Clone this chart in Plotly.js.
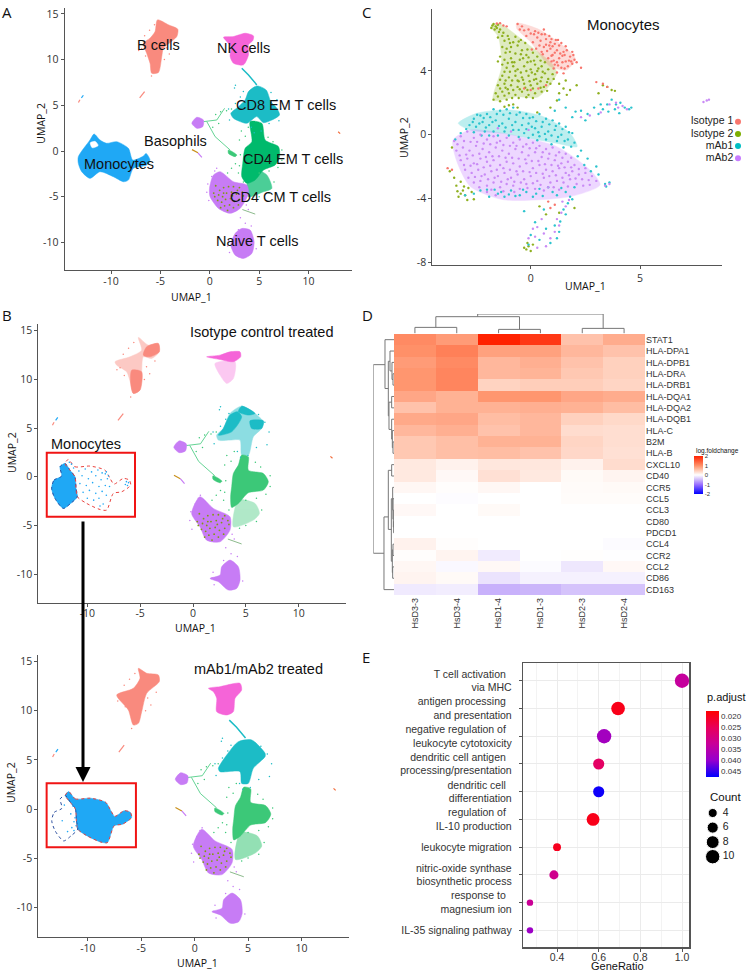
<!DOCTYPE html>
<html>
<head>
<meta charset="utf-8">
<script src="https://cdn.plot.ly/plotly-3.0.1.min.js"></script>
<style>body { margin: 0; background: white; }</style>
</head>
<body>
<div id="plot"></div>
<script>
var W = 747, H = 973;

// UMAP clusters are outlines (cell level points cannot be read one by one)
var bCellsA = [[-5.3,14.34],[-4.19,13.8],[-3.24,13.32],[-3.34,12.52],[-4.02,11.86],[-4.7,11.24],[-4.86,10.33],[-5.2,8.58],[-5.88,8.5],[-6.05,9.6],[-6.39,10.69],[-6.72,11.79],[-6.05,12.34],[-5.54,13.07]];
var nkA = [[1.39,12.45],[2.4,12.52],[3.58,12.88],[4.43,12.59],[4.36,12.08],[3.92,11.61],[3.92,10.51],[3.41,9.42],[2.4,9.6],[2.06,10.33],[2.13,11.42],[1.72,11.97]];
var cd8A = [[3.92,6.5],[4.76,7.12],[5.71,6.68],[6.18,5.4],[6.72,4.78],[7.06,3.94],[5.44,3.1],[4.76,3.76],[3.75,3.03],[2.4,3.58],[2.13,4.12],[2.91,4.85],[3.58,5.58]];
var cd4EmA = [[4.09,3.21],[5.27,3.03],[5.61,1.2],[6.96,0.47],[7.06,-0.62],[6.62,-1.53],[5.44,-2.08],[4.59,-3.18],[3.75,-3.54],[3.24,-2.81],[3.34,-1.35],[3.58,0.29],[4.26,1.02]];
var cd4LoopA = [[4.76,-2.08],[5.78,-2.63],[6.28,-4.09],[5.44,-4.45],[3.92,-5],[3.75,-3.7]];
var cd4CmA = [[-0.03,-4.09],[0.37,-2.63],[1.05,-2.26],[2.4,-3.36],[3.75,-3.72],[3.92,-4.64],[3.07,-6.28],[2.06,-6.82],[0.88,-6.28],[0.03,-5]];
var naiveA = [[2.57,-9.01],[3.24,-8.47],[4.09,-8.65],[4.49,-9.93],[4.26,-11.2],[3.41,-11.75],[2.57,-11.39],[2.13,-10.29]];
var monoA = [[-13.31,-0.62],[-12.13,1.2],[-11.72,1.86],[-11.11,1.2],[-10.44,0.84],[-9.43,1.02],[-8.24,0.29],[-7.8,-0.99],[-6.72,-0.55],[-6.45,-0.26],[-6.05,-0.99],[-6.39,-1.53],[-7.74,-1.9],[-8.24,-3.18],[-8.75,-3.36],[-9.76,-2.81],[-11.11,-2.26],[-12.13,-2.99],[-12.97,-2.26],[-13.31,-1.35]];
var monoHole = [[-12.1,0.9],[-11.6,1.05],[-11.3,0.6],[-11.9,0.35]];
var basoBlob = [[-1.82,3.03],[-1.32,3.69],[-0.64,3.39],[-0.71,2.66],[-1.32,2.48]];
var greenBlob = [[1.89,0.11],[2.74,-0.44],[2.57,-0.62],[1.89,-0.26]];

// streaks
var nkStreak = [[3.24,9.05],[3.92,8.32],[4.76,7.23]];
var basoStreak1 = [[-0.3,3.21],[0.54,1.57],[2.06,0.11]];
var basoStreak2 = [[-0.64,3.21],[0.71,3.39],[1.5,4.67]];
var bSmall = [[-7.1,5.8],[-6.6,6.5]];
var farSalmon1 = [[-13.3,5.3],[-13.15,5.6]];
var farBlue = [[-13,5.8],[-12.8,6.1]];
var farSalmon2 = [[13,2.1],[13.2,1.9]];
var basoLine = [[-1.8,0.15],[-1.2,-0.2]];
var basoLine2 = [[-1.2,-0.2],[-0.8,-0.7]];
var cmTail = [[3.3,-6.4],[4.6,-6.9]];

// panel B outlines
var bCellsB1 = [[-5.17,14.32],[-4.23,13.53],[-3.28,13.7],[-3.19,12.84],[-3.91,12.16],[-4.7,12.33],[-4.86,10.79],[-5.02,8.9],[-5.65,8.56],[-5.9,9.59],[-6.28,10.79],[-7.22,11.47],[-7.38,11.82],[-5.96,12.33],[-4.86,13.01]];
var bTopB1 = [[-4.39,13.36],[-3.28,13.7],[-3.19,12.84],[-4.07,12.33],[-4.7,12.5]];
var bLowB1 = [[-5.8,10.96],[-4.86,10.79],[-5.02,8.9],[-5.65,8.56],[-5.9,9.59]];
var nkDenseB1 = [[1.29,12.33],[2.56,12.5],[3.5,12.84],[4.45,12.84],[4.51,12.33],[3.82,11.82],[2.56,12.05]];
var nkSparseB1 = [[2.08,11.64],[3.97,11.82],[3.82,10.1],[3.19,9.59],[2.56,10.45]];
var cd8B1 = [[2.24,4.28],[2.87,4.97],[3.5,6.51],[4.61,7.26],[5.87,6.51],[6.66,5.65],[6.5,4.97],[5.71,4.11],[5.24,2.23],[4.61,2.23],[4.45,3.77],[3.5,3.77],[2.4,3.77]];
var cd8DenseB1a = [[2.4,4.28],[3.66,4.62],[4.61,6.16],[4.2,6.68],[3.5,6.34],[2.87,4.97]];
var cd8DenseB1b = [[4.61,7.26],[5.87,6.51],[5.24,6.34],[4.29,6.68]];
var cd8DenseB1c = [[5.39,5.75],[6.66,5.75],[6.5,4.97],[5.55,4.97]];
var cd4EmB = [[4.61,2.23],[5.24,2.05],[5.24,0.68],[6.66,0.34],[7.13,-0.51],[6.66,-1.37],[5.24,-1.64],[4.29,-2.74],[3.66,-3.15],[3.56,-2.05],[3.66,-1.03],[3.82,0.34],[4.29,1.2]];
var cd4LoopB = [[4.29,-2.4],[5.87,-2.74],[6.28,-3.77],[5.71,-4.45],[3.82,-5.14]];
var cd4CmB = [[-0.13,-3.77],[0.66,-2.05],[1.92,-3.25],[3.5,-4.11],[3.5,-5.48],[2.56,-6.68],[1.29,-6.51],[0.66,-5.14]];
var naiveB = [[2.71,-9.25],[3.5,-8.56],[4.29,-9.25],[4.45,-10.62],[4.13,-11.47],[3.34,-11.64],[2.4,-10.79],[1.61,-10.45],[2.56,-10.1]];
var bCellsB2 = [[-5.27,14.32],[-4.49,13.82],[-3.4,13.65],[-3.31,12.97],[-4.49,11.78],[-4.96,9.91],[-5.27,8.72],[-5.74,8.55],[-6.21,10.08],[-7.3,11.61],[-5.74,12.29],[-5.12,13.31]];
var nkB2 = [[1.28,12.29],[2.37,12.46],[4.24,12.8],[4.4,12.12],[3.78,11.27],[3.62,9.91],[3,9.57],[2.06,9.91],[2.06,11.27],[1.75,11.95]];
var cd8B2 = [[3,5.5],[4.09,6.86],[5.34,7.03],[6.59,5.67],[6.59,5.33],[5.49,4.14],[5.02,2.61],[4.4,2.61],[4.24,3.8],[2.37,3.8],[2.22,4.14]];
var monoLeft = [[-13.38,-1.2],[-13.15,-0.34],[-12.43,0.07],[-12.59,1.03],[-12.11,1.37],[-11.64,0.68],[-11.17,0],[-11.07,-1.2],[-10.95,-2.05],[-11.58,-2.74],[-12.27,-3.25],[-13.06,-2.23]];
var monoRight = [[-11.8,1.78],[-11.17,1.03],[-9.75,1.1],[-8.33,0.68],[-7.85,-0.17],[-7.48,-0.75],[-6.59,-0.17],[-6.03,-0.34],[-5.9,-0.86],[-6.75,-1.54],[-7.54,-1.71],[-8.17,-3.42],[-8.8,-3.36],[-10.06,-2.74],[-10.95,-2.05],[-11.07,-1.2],[-11.17,0],[-11.64,0.68],[-12.11,1.37]];

var monoRightPts = [[-10.8,0.6],[-10.2,0.8],[-9.6,0.5],[-9,0.7],[-8.6,0.4],[-8.3,0.3],[-10.5,0.1],[-9.9,-0.2],[-9.2,0.1],[-8.7,-0.3],[-8.1,-0.2],[-10.7,-0.7],[-10.1,-0.9],[-9.5,-0.6],[-8.9,-1],[-8.3,-0.9],[-7.9,-1],[-10.4,-1.6],[-9.8,-1.4],[-9.2,-1.7],[-8.6,-1.5],[-10,-2.2],[-9.4,-2.4],[-8.9,-2.2],[-8.5,-2.8],[-8.8,-3],[-8.2,-1.9],[-6.3,-0.5],[-6.1,-0.6],[-6.4,-0.8],[-6.2,-0.9],[-11.5,1.3],[-11.7,1.5],[-11.3,0.9],[-8.2,0.5],[-8,0.1]];
var monoLeftPts = [[-12.2,0.4],[-11.4,0.3],[-11.6,-0.5],[-11.3,-1.3],[-11.5,-1.9],[-12.4,-1.2],[-11.2,-0.9],[-11.1,-1.7],[-11.9,-2.3],[-11.3,-2.2]];
var olivePts = [[0.6,-3.8],[1,-4.3],[1.4,-4],[1.9,-3.9],[2.4,-3.9],[3,-4],[0.4,-4.6],[0.9,-4.8],[1.3,-5],[1.7,-4.6],[2.2,-4.5],[2.7,-4.7],[3.3,-4.5],[0.8,-5.4],[1.2,-5.6],[1.6,-5.3],[2.1,-5.2],[2.5,-5.5],[3,-5.3],[1.5,-6],[2,-5.9],[2.4,-6.2],[2.9,-5.9],[1.1,-6.2],[1.8,-6.5],[3.4,-4.9],[0.5,-5],[2.3,-4.9],[1.4,-4.6],[2.8,-4.3]];
var greenSpecks = [[3,1.2],[3.2,2.2],[3.6,1.6],[3.9,2.6],[3.1,-0.4],[3,-1.6],[2.9,-2.4],[5.9,1.5],[6.4,1],[7.3,0.1],[7.3,-1],[6.9,-1.8],[6,-2.2],[5,-2.4],[2.6,-1.4],[2.2,-1.9],[1.8,-2.4],[3.4,-3.4],[6,-4.6],[5,-5],[4.4,-5.3],[6.5,-3.4],[2.2,4.6],[1.7,4.4],[0.9,3],[0.3,2.6],[0.6,4],[1.1,4.3]];
var tealSpecks = [[2,3.4],[1.9,4.6],[2.6,5.2],[3.1,5.9],[2.5,6.9],[2.6,7.2],[3.4,6.5],[4.2,2.6],[4.5,2],[5.2,2.2],[6,3],[7,3.3],[7.2,4.6],[6.8,5.6],[6.2,6.4]];
var purpleSpecks = [[-0.3,-4.5],[-0.2,-3.6],[0.2,-2.8],[0.5,-2.2],[0.7,-1.9],[3.9,-6.4],[3.1,-7.3],[3.6,-7.9],[4.2,-8.2],[2.9,-8.6],[1.9,-9.8],[1.8,-10.4],[4.7,-10.7],[2,-11.1],[1.1,-5.9],[-0.1,-5.4],[3.7,-5.9]];
var salmonSpecks = [[-6.6,12.6],[-6.1,13.2],[-5.6,13.8],[-6.9,11.2],[-6.5,10.4],[-4.4,11.3],[-4.1,10.6],[-4.6,10],[-3.6,11.9],[-7.2,11],[-5.9,8.2]];

// panel C points and tints
var isotype1Pts = [[-0.6,6.95],[-0.4,6.8],[-0.1,6.6],[0.2,6.5],[0.5,6.3],[0.3,6.1],[0.7,6],[0.9,5.8],[1.1,5.7],[0.6,5.5],[0.9,5.4],[1.2,5.3],[1.5,5.2],[1.8,4.9],[2,4.7],[1.6,4.6],[1.3,4.8],[1,5],[0.8,4.8],[1.1,4.4],[1.4,4.2],[1.7,4.3],[1.2,3.9],[0.4,5.6],[0.1,5.8],[-0.2,6.2],[2.3,4.2],[3,3.3],[3.3,3.2],[3.5,3],[-1.4,7],[-1.1,6.8],[-0.3,2.9],[0,2.8],[-3.8,-2.1],[-3.6,-2.2],[0.8,-4.2],[0.9,-4.6],[1.1,-4.4],[0.6,6.6],[0.85,6.2],[1.25,5.95],[1.6,5.55],[1.9,5.2],[0.55,5.05],[1.45,4.95],[1.05,4.65],
  [0.15,6.3],[0.45,5.9],[0.7,5.65],[1,5.55],[1.3,5.6],[1.55,5],[1.85,4.6],[1.95,5],[0.95,4.95],[1.2,4.55],[1.45,4.55],[1.55,4.15],[1.05,4.15],[0.75,5.25],[0.5,5.2],[-0.3,6.55],[-0.5,6.6],[0,6.35],[0.35,6.4],[0.65,6.3],[0.95,6],[1.15,5.95],[1.4,5.75],[1.65,5.3],[1.75,4.65],[1.35,5.1],[1.1,5.15],[0.85,5.6],[0.25,5.4],[0.05,5.35],[1.25,4.35],[0.95,4.6],[1.9,4.45],[2.1,4.55],[1.5,3.85],[0.7,3.1],[0.35,2.9],[-1.55,6.98],[-1.25,6.85]];
var isotype2Pts = [[-1.7,6.95],[-1.6,6.8],[-1.8,6.7],[-1.5,6.9],[-1.65,6.6],[-1.4,6.6],[-1.3,6.2],[-1.5,6.1],[-1.2,5.9],[-1,6],[-0.8,5.8],[-1.3,5.5],[-1.1,5.4],[-0.9,5.5],[-0.6,5.6],[-0.4,5.3],[-0.7,5.1],[-1.4,4.9],[-1.5,4.6],[-1.2,4.7],[-0.9,4.8],[-0.5,4.7],[-0.2,5],[0,4.6],[0.3,4.9],[-1.1,4.2],[-0.8,4.3],[-0.6,4.1],[-0.3,4.3],[0,4.1],[0.2,4.4],[0.5,4.3],[0.8,4.1],[1,3.8],[-1.3,3.7],[-1,3.6],[-0.7,3.7],[-0.4,3.6],[-0.1,3.7],[0.2,3.8],[0.5,3.6],[0.8,3.5],[-1.5,3.1],[-1.2,3.2],[-0.9,3.1],[-0.6,3],[-0.3,3.2],[0,3.1],[0.3,3.2],[0.6,3],[0.9,3.2],[-1.6,2.6],[-1.3,2.7],[-1,2.6],[-0.7,2.5],[-0.4,2.7],[-0.1,2.5],[0.2,2.6],[0.5,2.7],[-1.7,2.2],[-1.4,2.1],[-1.1,2.2],[-0.8,1.9],[1.3,3.2],[1.6,3.4],[1.8,2.8],[1.3,2.6],[0.9,1.7],[3.5,3],[3.7,2.8],[3.85,2.75],[3.3,3.1],[3.1,2.6],[-3.2,-3.7],[-3.1,-3.5],[-3.3,-3.9],[-3,-3.8],[-2.9,-4.1],[-3.4,-3.2],[-2.7,-3.6],[-3.5,-2.7],[-3.7,-2.3],[-3.6,-0.8],[-0.2,-7.2],[-0.1,-7],[0,-7.3],[-0.3,-7.1],[-0.15,-6.8],[0.1,-6.9],[1.3,-4.9],[0.4,-4.5],[0.7,-5],[2,-4.6],[-0.45,5.95],[-0.85,4.55],[-0.15,4.55],[0.35,4.15],[-0.55,3.35],[0.15,3.45],[0.65,3.85],[-1.15,2.95],[-0.25,2.95],
  [-1.75,6.85],[-1.55,6.7],[-1.45,6.45],[-1.25,6.4],[-1.05,6.2],[-0.7,6.15],[-0.95,5.75],[-0.55,5.85],[-0.25,5.75],[-1.15,5.15],[-0.95,5.2],[-0.45,5.05],[-0.15,5.35],[0.1,5.15],[0.45,4.65],[-1.3,4.4],[-1.05,4.5],[-0.75,4.55],[-0.35,4.8],[-0.1,4.85],[0.15,4.65],[0.65,4.55],[-1.2,3.95],[-0.95,3.95],[-0.7,4],[-0.45,3.9],[-0.2,4],[0.05,3.9],[0.3,4],[0.55,3.95],[-1.4,3.45],[-1.15,3.4],[-0.85,3.4],[-0.6,3.4],[-0.35,3.45],[-0.05,3.35],[0.25,3.5],[0.45,3.35],[0.75,3.3],[-1.4,2.9],[-1.05,2.85],[-0.8,2.8],[-0.5,2.85],[-0.15,2.8],[0.1,2.9],[0.45,2.95],[0.75,2.75],[-1.5,2.4],[-1.2,2.45],[-0.85,2.3],[-0.55,2.3],[-0.2,2.35],[0.1,2.3],[-1,1.85],[-1.2,1.75],[-0.6,1.7],[1.05,3.5],[1.5,2.9],[1.65,2.5],[2.1,3.1],[1.2,2.15],[0.3,1.4],[-3.05,-3.25],[-3.2,-2.95],[-2.85,-3.35],[-3.35,-3.55],[-2.6,-4.05]];
var mab1Pts = [[-2.6,1],[-2.3,1.2],[-2,1.3],[-1.7,1.6],[-1.4,1.5],[-1.1,1.6],[-0.8,1.7],[-0.5,1.4],[-0.2,1.3],[0.1,1.1],[0.4,1.3],[0.7,1],[1,0.9],[1.3,0.7],[1.6,0.5],[1.9,0.1],[-2.8,0.6],[-2.5,0.5],[-2.2,0.8],[-1.9,0.6],[-1.6,0.9],[-1.3,0.7],[-1,1],[-0.7,0.8],[-0.4,0.6],[-0.1,0.7],[0.2,0.4],[0.5,0.5],[0.8,0.2],[1.1,0.3],[1.4,0],[1.7,-0.3],[2,-0.5],[-2.1,0.2],[-1.7,0.2],[-1.2,0.2],[-0.8,0.3],[-0.3,0.1],[0.1,0],[0.4,-0.1],[0.7,-0.3],[1.2,-0.4],[2.3,-1],[2.6,-1.5],[3,-2],[3.1,-2.5],[3.4,-3.1],[3.6,-3],[3.45,-3.25],[2.3,1.5],[2.6,1.3],[2.9,1.7],[3.1,1.3],[3.3,1.6],[3.5,1.9],[3.7,2.2],[3.9,1.9],[4.1,2],[4.3,1.7],[4.5,1.6],[4.6,1.7],[1.3,2.2],[1.6,1.7],[1.9,1.1],[1.1,1.5],[-3,-3.8],[-2.3,-3.5],[-1.9,-3.9],[-1.5,-3.7],[-1.2,-3.9],[-0.9,-3.5],[-0.5,-3.8],[-0.2,-3.6],[0.1,-3.9],[0.4,-3.4],[0.8,-3.3],[1.2,-3.8],[1.6,-3.6],[2,-3.3],[1.7,-4.3],[1.5,-4.7],[-0.3,-4.8],[0.6,-4.7],[0.2,-5.5],[0.7,-5.9],[1.1,-5.7],[1.3,-6.1],[0,-6.3],[0.4,-6.6],[0.9,-6.8],[1.2,-6.5],[-0.1,-6.9],
  [-2.45,1.25],[-2.15,1.05],[-1.85,1.1],[-1.55,1.3],[-1.25,1.25],[-0.95,1.35],[-0.65,1.25],[-0.35,1.05],[-0.05,1.05],[0.25,0.85],[0.55,0.8],[0.85,0.65],[1.15,0.55],[1.45,0.35],[1.75,0.15],[-2.65,0.8],[-2.35,0.7],[-2.05,0.45],[-1.75,0.8],[-1.45,0.55],[-1.15,0.45],[-0.85,0.6],[-0.55,0.3],[-0.2,0.35],[0.05,0.5],[0.35,0.15],[0.65,0.05],[0.95,-0.05],[1.25,-0.15],[1.55,-0.4],[1.85,-0.75],[-2.95,0.35],[-2.6,0.15],[-2.25,-0.05],[-1.9,-0.05],[-1.5,-0.05],[-1,-0.05],[-0.55,-0.15],[-0.1,-0.2],[0.3,-0.35],[0.95,-0.6],[1.5,-0.8],[2.15,-1.35],[2.45,-1.9],[2.75,-2.3],[-2.6,-3.7],[-2,-3.45],[-1.65,-3.45],[-1.35,-3.6],[-1,-3.75],[-0.7,-3.85],[-0.35,-3.45],[0.25,-3.7],[0.55,-3.85],[1,-3.6],[1.4,-3.35],[1.8,-3.9],[1.9,-4.05],[1.6,-5],[1.35,-5.45],[3.2,1.9],[3.55,1.45],[3.85,1.6],[4.05,1.35],[2.05,1.45],[2.5,0.9],[-3.2,0.1],[-3.45,-0.3]];
var mab2Pts = [[-3.5,-0.4],[-3.2,-0.1],[-2.9,0.2],[-2.6,-0.2],[-2.3,0],[-2,-0.3],[-1.7,-0.1],[-1.4,-0.4],[-1.1,-0.2],[-0.8,-0.5],[-0.5,-0.3],[-0.2,-0.6],[0.1,-0.5],[0.4,-0.7],[0.7,-0.9],[1,-0.8],[1.3,-1.1],[1.6,-1.2],[-3.4,-1],[-3.1,-0.8],[-2.8,-1],[-2.5,-0.7],[-2.2,-0.9],[-1.9,-1.1],[-1.6,-0.8],[-1.3,-1],[-1,-1.2],[-0.7,-0.9],[-0.4,-1.1],[-0.1,-1.3],[0.2,-1.1],[0.5,-1.4],[0.8,-1.5],[1.1,-1.6],[1.4,-1.8],[1.7,-1.7],[2,-1.9],[-3.2,-1.6],[-2.9,-1.5],[-2.6,-1.8],[-2.3,-1.5],[-2,-1.7],[-1.7,-1.6],[-1.4,-1.9],[-1.1,-1.7],[-0.8,-1.8],[-0.5,-2],[-0.2,-1.8],[0.1,-2.1],[0.4,-1.9],[0.7,-2.2],[1,-2.3],[1.3,-2.1],[1.6,-2.4],[1.9,-2.3],[2.2,-2.5],[2.5,-2.4],[2.8,-2.6],[3,-2.9],[-3,-2.2],[-2.7,-2.4],[-2.4,-2.2],[-2.1,-2.5],[-1.8,-2.3],[-1.5,-2.6],[-1.2,-2.4],[-0.9,-2.7],[-0.6,-2.5],[-0.3,-2.8],[0,-2.6],[0.3,-2.9],[0.6,-2.7],[0.9,-3],[1.2,-2.9],[1.5,-3],[1.8,-2.8],[2.1,-3.1],[2.4,-3.2],[-2.6,-3],[-2.3,-2.9],[-2,-3.2],[-1.7,-3],[-1.4,-3.3],[-1.1,-3.1],[-0.8,-3.2],[-0.5,-3.4],[-0.2,-3.1],[0.2,-3.4],[0.6,-3.5],[-2,-3.6],[-1.6,-3.8],[3.4,-3.2],[3.6,-3.1],[1.6,-4.5],[1.4,-4.9],[1.2,-5.3],[0.3,-5.8],[0.6,-6.2],[-0.1,-6.5],[0.2,-6.4],[1.1,-6.1],[0.9,-6.5],[0.3,-7.1],[0.7,-7],[3.9,2],[4.2,1.8],[4.4,1.6],[4,1.7],[3.6,1.9],[3.2,1.4],[2.7,1.2],[2.3,1.1],[7.9,2.05],[8.05,2.15],[8.15,2.2],[-1.5,0.4],[-0.9,0.2],[-0.1,0.3],
  [-3.35,-0.6],[-3.05,-0.4],[-2.75,-0.45],[-2.45,-0.45],[-2.15,-0.55],[-1.85,-0.6],[-1.55,-0.5],[-1.25,-0.65],[-0.95,-0.7],[-0.65,-0.7],[-0.35,-0.75],[-0.05,-0.85],[0.25,-0.85],[0.55,-1.1],[0.85,-1.2],[1.15,-1.3],[1.45,-1.45],[1.85,-1.45],[-3.25,-1.3],[-2.95,-1.25],[-2.65,-1.3],[-2.35,-1.2],[-2.05,-1.4],[-1.75,-1.35],[-1.45,-1.35],[-1.15,-1.45],[-0.85,-1.45],[-0.55,-1.5],[-0.25,-1.55],[0.05,-1.65],[0.35,-1.65],[0.65,-1.85],[0.95,-1.9],[1.25,-1.95],[1.55,-2.05],[1.85,-2.05],[2.2,-2.15],[2.5,-2.1],[-3.05,-1.9],[-2.75,-1.95],[-2.45,-1.85],[-2.15,-2.05],[-1.85,-1.95],[-1.55,-2.2],[-1.25,-2.1],[-0.95,-2.2],[-0.65,-2.3],[-0.35,-2.3],[-0.05,-2.35],[0.25,-2.4],[0.55,-2.45],[0.85,-2.6],[1.15,-2.55],[1.45,-2.7],[1.75,-2.55],[2.05,-2.75],[2.35,-2.8],[2.65,-2.85],[-2.85,-2.7],[-2.55,-2.65],[-2.25,-2.6],[-1.95,-2.8],[-1.65,-2.7],[-1.35,-2.95],[-1.05,-2.8],[-0.75,-2.95],[-0.45,-3],[-0.15,-3.35],[0.1,-3.05],[0.45,-3.15],[0.8,-3.3],[1.05,-3.3],[1.3,-3.45],[1.7,-3.25],[2.7,-3.15],[-2.35,-3.3],[-1.8,-3.45],[-1.25,-3.55],[-0.75,-3.6],[1.45,-4.2],[1.75,-4.1],[1.3,-5.7],[0.5,-5.3],[0.1,-5.9]];
var tintIsotype1 = [[-0.64,6.99],[0.43,6.57],[2.03,4.8],[1.65,4.07],[0.88,4.29],[-0.03,5.86],[-0.64,6.67]];
var tintIsotype2 = [[-1.83,6.78],[-1.48,6.99],[-0.18,5.73],[0.96,4.48],[1.19,3.85],[0.35,2.38],[-0.64,2.38],[-1.71,2.17],[-1.33,4.27],[-1.48,6.15]];
var tintMab1 = [[-3.31,0.71],[-2.47,1.34],[-0.94,1.55],[0.58,1.13],[1.81,0.08],[2.12,-0.75],[1.19,-0.54],[-1.25,0.08],[-2.77,0.29]];
var tintMab2 = [[-3.55,-0.33],[-2.77,0.29],[-1.25,0.08],[1.19,-0.75],[2.71,-2.22],[3.17,-3.15],[1.81,-3.88],[-1.25,-4.08],[-2.77,-3.24],[-3.4,-1.59]];

// heatmap
var sampleNames = ["HsD3-3", "HsD3-4", "HsD1-4", "HsD1-3", "HsD2-3", "HsD2-4"];
var geneNames = ["STAT1", "HLA-DPA1", "HLA-DPB1", "HLA-DRA", "HLA-DRB1", "HLA-DQA1", "HLA-DQA2", "HLA-DQB1", "HLA-C", "B2M", "HLA-B", "CXCL10", "CD40", "CCR5", "CCL5", "CCL3", "CD80", "PDCD1", "CCL4", "CCR2", "CCL2", "CD86", "CD163"];
var foldChange = [
  [1.05, 0.9, 2.0, 1.8, 0.55, 0.75],
  [1.0, 1.15, 0.85, 0.85, 0.65, 0.55],
  [0.9, 1.05, 0.65, 0.72, 0.55, 0.42],
  [0.95, 1.1, 0.65, 0.68, 0.5, 0.42],
  [0.95, 1.1, 0.4, 0.45, 0.45, 0.38],
  [0.8, 0.7, 0.95, 0.95, 0.8, 0.75],
  [0.55, 0.7, 0.7, 0.72, 0.7, 0.6],
  [0.78, 0.8, 0.6, 0.65, 0.42, 0.35],
  [0.65, 0.72, 0.55, 0.65, 0.32, 0.3],
  [0.5, 0.58, 0.7, 0.7, 0.38, 0.3],
  [0.5, 0.58, 0.6, 0.55, 0.36, 0.28],
  [0.2, 0.12, 0.22, 0.22, 0.12, 0.32],
  [0.2, 0.06, 0.28, 0.2, 0.05, 0.1],
  [0.07, 0.02, 0.07, 0, 0.04, 0.05],
  [0, -0.02, 0, 0, 0.03, 0.03],
  [0.06, 0, 0.05, 0, 0, 0],
  [0, 0, 0, 0, 0, 0],
  [0, 0, 0, 0, 0, 0],
  [0.12, 0.02, 0, 0, 0, -0.03],
  [0.02, 0.1, -0.14, 0, 0.01, -0.01],
  [0.07, -0.05, 0.06, -0.03, -0.17, 0.06],
  [0.1, 0.05, -0.2, -0.1, -0.1, -0.1],
  [-0.15, -0.13, -0.55, -0.52, -0.42, -0.42]
];

// dendrogram merges: position a, height a, position b, height b, height of the join
var columnMerges = [[0,0,1,0,18],[2,0,3,0,12],[4,0,5,0,15],[0.5,18,2.5,12,50],[1.5,50,4.5,15,58]];
var rowMerges = [
  [3,0,4,0,3],[2,0,3.5,3,6],[1,0,2.75,6,12],[5,0,6,0,7],[9,0,10,0,3],[8,0,9.5,3,5],[7,0,8.75,5,7],
  [5.5,7,7.9,7,15],[1.9,12,6.7,15,17],[0,0,4.3,17,27],
  [11,0,12,0,7],[16,0,17,0,1],[15,0,16.5,1,2],[14,0,15.8,2,3],[13,0,15,3,4],[18,0,19,0,3],[20,0,21,0,4],[18.5,3,20.5,4,5],[14,4,19.5,5,8],
  [11.5,7,16.7,8,17],[15.6,17,22,0,30],[2.2,27,18.8,30,62]
];

// dot plot
var goTerms = ["T cell activation&nbsp;&nbsp;<br>via MHC", "antigen processing&nbsp;&nbsp;<br>and presentation", "negative regulation of&nbsp;&nbsp;<br>leukocyte cytotoxicity", "dendritic cell antigen&nbsp;&nbsp;<br>processing/presentation", "dendritic cell&nbsp;&nbsp;<br>differentiation", "regulation of&nbsp;&nbsp;<br>IL-10 production", "leukocyte migration", "nitric-oxide synthase<br>biosynthetic process", "response to&nbsp;&nbsp;<br>magnesium ion", "IL-35 signaling pathway"];
var geneRatio = [1.0, 0.693, 0.626, 0.6, 0.6, 0.573, 0.4, 0.385, 0.27, 0.27];
var pAdjust = [0.033, 0.0195, 0.038, 0.026, 0.047, 0.0195, 0.02, 0.031, 0.032, 0.039];
var geneCount = [10, 9, 10, 6, 6, 8, 3, 4, 2, 2];
var pTicks = [0.02, 0.025, 0.03, 0.035, 0.04, 0.045];
var pTickText = ["0.020", "0.025", "0.030", "0.035", "0.040", "0.045"];
var countLegend = [4, 6, 8, 10];

var groupNames = ["Isotype 1", "Isotype 2", "mAb1", "mAb2"];
var groupColors = ["#F8766D", "#7CAE00", "#00BFC4", "#C77CFF"];

var fontSans = "Liberation Sans, Arial, sans-serif";
var fontAxis = "Open Sans, sans-serif";
var salmon = "#F98A7E", pink = "#F564D8", teal = "#1CBCC6", green = "#00BA6C", greenB = "#3CC878",
    purple = "#C77CF5", blue = "#1FA8F5", olive = "#7F9A10";

function domX(a, b) { return [a / W, b / W]; }
function domY(top, bottom) { return [1 - bottom / H, 1 - top / H]; }
function xs(p) { return p.map(function (d) { return d[0]; }); }
function ys(p) { return p.map(function (d) { return d[1]; }); }

var data = [];

function blob(poly, color, ax, alpha) {
  var closed = poly.concat([poly[0]]);
  data.push({
    x: xs(closed), y: ys(closed), xaxis: "x" + ax, yaxis: "y" + ax,
    mode: "lines", fill: "toself", fillcolor: color, opacity: alpha || 1,
    line: { color: color, width: 0.5, shape: "spline", smoothing: 0.7 }, hoverinfo: "skip", showlegend: false
  });
}
function streak(poly, color, ax, width) {
  data.push({
    x: xs(poly), y: ys(poly), xaxis: "x" + ax, yaxis: "y" + ax, mode: "lines",
    line: { color: color, width: width || 1.2 }, hoverinfo: "skip", showlegend: false
  });
}
function dots(pts, color, ax, size) {
  data.push({
    x: xs(pts), y: ys(pts), xaxis: "x" + ax, yaxis: "y" + ax, mode: "markers",
    marker: { color: color, size: size || 2 }, hoverinfo: "skip", showlegend: false
  });
}
function outline(poly, color, ax) {
  var closed = poly.concat([poly[0]]);
  data.push({
    x: xs(closed), y: ys(closed), xaxis: "x" + ax, yaxis: "y" + ax, mode: "lines",
    line: { color: color, width: 1, dash: "dot", shape: "spline", smoothing: 0.7 }, hoverinfo: "skip", showlegend: false
  });
}
function sharedBits(ax) {
  streak(basoStreak1, greenB, ax, 0.8);
  streak(basoStreak2, greenB, ax, 0.8);
  blob(basoBlob, purple, ax);
  blob(greenBlob, greenB, ax);
  streak(bSmall, salmon, ax);
  streak(farSalmon1, salmon, ax);
  streak(farBlue, blue, ax);
  streak(farSalmon2, "#F26B3A", ax);
  streak(basoLine, "#C9901A", ax);
  streak(basoLine2, purple, ax);
  streak(cmTail, "#6FA86F", ax, 0.8);
  dots(olivePts, olive, ax, 1.8);
  dots(greenSpecks, greenB, ax, 1.5);
  dots(tealSpecks, teal, ax, 1.5);
  dots(purpleSpecks, purple, ax, 1.5);
  dots(salmonSpecks, salmon, ax, 1.5);
}

// Panel A
blob(bCellsA, salmon, "");
blob(nkA, pink, "");
streak(nkStreak, teal, "", 1.5);
blob(cd8A, teal, "");
blob(cd4LoopA, green, "", 0.7);
blob(cd4EmA, green, "");
blob(cd4CmA, purple, "");
blob(naiveA, purple, "");
blob(monoA, blue, "");
blob(monoHole, "#ffffff", "");
sharedBits("");

// Panel B, isotype control
blob(bCellsB1, salmon, "2", 0.45);
blob(bTopB1, salmon, "2");
blob(bLowB1, salmon, "2");
blob(nkSparseB1, pink, "2", 0.35);
blob(nkDenseB1, pink, "2");
blob(cd8B1, teal, "2", 0.5);
blob(cd8DenseB1a, teal, "2");
blob(cd8DenseB1b, teal, "2");
blob(cd8DenseB1c, teal, "2");
blob(cd4LoopB, greenB, "2", 0.4);
blob(cd4EmB, greenB, "2");
blob(cd4CmB, purple, "2");
blob(naiveB, purple, "2");
blob(monoLeft, blue, "2");
outline(monoLeft, "#2D4FA0", "2");
outline(monoRight, "#E8433F", "2");
dots(monoRightPts, blue, "2", 1.6);
sharedBits("2");

// Panel B, treated
blob(bCellsB2, salmon, "3");
blob(nkB2, pink, "3");
streak(nkStreak, teal, "3", 1.5);
blob(cd8B2, teal, "3");
blob(cd4LoopB, greenB, "3", 0.55);
blob(cd4EmB, greenB, "3");
blob(cd4CmB, purple, "3");
blob(naiveB, purple, "3");
blob(monoRight, blue, "3");
outline(monoRight, "#E8433F", "3");
outline(monoLeft, "#2D4FA0", "3");
dots(monoLeftPts, blue, "3", 1.6);
sharedBits("3");

// Panel C
blob(tintIsotype2, groupColors[1], "4", 0.24);
blob(tintIsotype1, groupColors[0], "4", 0.26);
blob(tintMab1, groupColors[2], "4", 0.26);
blob(tintMab2, groupColors[3], "4", 0.3);
dots(isotype2Pts, "#8FB020", "4", 2.4);
dots(isotype1Pts, groupColors[0], "4", 2.4);
dots(mab1Pts, "#2CC4CE", "4", 2.4);
dots(mab2Pts, "#C98BF5", "4", 2.4);
data.push({
  x: groupNames.map(function () { return 0; }), y: groupNames.map(function (d, i) { return i; }),
  xaxis: "x5", yaxis: "y5", mode: "markers+text", text: groupNames, textposition: "middle left",
  textfont: { family: fontSans, size: 10.5, color: "#222" },
  marker: { color: groupColors, size: 6 }, hoverinfo: "skip", showlegend: false, cliponaxis: false
});

// Panel D
data.push({
  type: "heatmap", x: sampleNames, y: geneNames, z: foldChange, xaxis: "x6", yaxis: "y6",
  zmin: -2, zmax: 2,
  colorscale: [[0, "#0000FF"], [0.25, "#9A70FF"], [0.375, "#CDB8FA"], [0.5, "#FFFFFF"], [0.625, "#FFC8B2"], [0.75, "#FF9068"], [1, "#FF2200"]],
  colorbar: {
    x: 694.3 / W, xanchor: "left", xpad: 0, y: 1 - 456 / H, yanchor: "top", ypad: 0,
    thickness: 9, thicknessmode: "pixels", len: 38, lenmode: "pixels", outlinewidth: 0,
    tickvals: [-2, -1, 0, 1, 2], ticktext: ["-2", "-1", "0", "1", "2"], ticks: "",
    tickfont: { family: fontSans, size: 6, color: "#333" }
  },
  hoverinfo: "skip"
});
function mergePath(merges) {
  var pos = [], hgt = [];
  merges.forEach(function (m) {
    pos.push(m[0], m[0], m[2], m[2], null);
    hgt.push(m[1], m[4], m[4], m[3], null);
  });
  return { pos: pos, hgt: hgt };
}
var topPath = mergePath(columnMerges), leftPath = mergePath(rowMerges);
data.push({ x: topPath.pos, y: topPath.hgt, xaxis: "x7", yaxis: "y7", mode: "lines", line: { color: "#777", width: 1 }, hoverinfo: "skip", showlegend: false, cliponaxis: false });
data.push({ x: leftPath.hgt, y: leftPath.pos, xaxis: "x8", yaxis: "y8", mode: "lines", line: { color: "#777", width: 1 }, hoverinfo: "skip", showlegend: false, cliponaxis: false });

// Panel E, dot area follows the count
function countSize(c) { return 4.55 * Math.sqrt(c); }
data.push({
  x: geneRatio, y: goTerms.map(function (d, i) { return i; }), xaxis: "x9", yaxis: "y9", mode: "markers",
  marker: {
    size: geneCount.map(countSize), color: pAdjust.map(function (p) { return -p; }), opacity: 1,
    cmin: -0.0477, cmax: -0.0174, colorscale: [[0, "#0000FF"], [0.25, "#9500CE"], [0.5, "#C8009A"], [0.75, "#E8005A"], [1, "#FF0000"]], line: { width: 0 },
    colorbar: {
      x: 706.3 / W, xanchor: "left", xpad: 0, y: 1 - 711 / H, yanchor: "top", ypad: 0,
      thickness: 13, thicknessmode: "pixels", len: 65.7, lenmode: "pixels", outlinewidth: 0,
      tickvals: pTicks.map(function (p) { return -p; }), ticktext: pTickText, ticks: "",
      tickfont: { family: fontSans, size: 8, color: "#333" }
    }
  },
  hoverinfo: "skip", showlegend: false
});
data.push({
  x: countLegend.map(function () { return 0; }), y: countLegend.map(function (d, i) { return i; }),
  xaxis: "x10", yaxis: "y10", mode: "markers",
  marker: { color: "black", size: countLegend.map(countSize), opacity: 1 }, hoverinfo: "skip", showlegend: false, cliponaxis: false
});
data.push({
  x: countLegend.map(function () { return 10; }), y: countLegend.map(function (d, i) { return i; }),
  xaxis: "x10", yaxis: "y10", mode: "text", text: countLegend.map(String), textposition: "middle right",
  textfont: { family: fontSans, size: 10.5, color: "#222" }, hoverinfo: "skip", showlegend: false, cliponaxis: false
});

function umapX(a, b, range, tickvals, standoff) {
  return {
    domain: domX(a, b), range: range, tickmode: "array", tickvals: tickvals, ticktext: tickvals.map(String), ticklabelstandoff: standoff,
    showgrid: false, zeroline: false, showline: true, linecolor: "#555", linewidth: 1, ticks: "outside", ticklen: 3, tickcolor: "#555",
    tickfont: { family: fontAxis, size: 10.5, color: "#333" }
  };
}
function umapY(top, bottom, range, tickvals) {
  return {
    domain: domY(top, bottom), range: range, tickmode: "array", tickvals: tickvals, ticktext: tickvals.map(String),
    showgrid: false, zeroline: false, showline: true, linecolor: "#555", linewidth: 1, ticks: "outside", ticklen: 3, tickcolor: "#555",
    tickfont: { family: fontAxis, size: 10.5, color: "#333" }
  };
}
function hiddenAxis(dom, range) {
  return { domain: dom, range: range, visible: false, fixedrange: true };
}
function withAnchor(ax, other) { ax.anchor = other; return ax; }

var xTicks = [-10, -5, 0, 5, 10], yTicks = [-10, -5, 0, 5, 10, 15];

var layout = {
  width: W, height: H, margin: { l: 0, r: 0, t: 0, b: 0 }, paper_bgcolor: "white", plot_bgcolor: "rgba(0,0,0,0)",
  showlegend: false,
  xaxis: withAnchor(umapX(64.5, 352, [-14.71, 14.4], xTicks, -1), "y"),
  yaxis: withAnchor(umapY(8, 269.5, [-12.96, 15.64], yTicks), "x"),
  xaxis2: withAnchor(umapX(38.3, 345.7, [-14.64, 14.45], xTicks, -3), "y2"),
  yaxis2: withAnchor(umapY(324, 603.3, [-13, 15.7], yTicks), "x2"),
  xaxis3: withAnchor(umapX(38.3, 348.7, [-14.64, 14.42], xTicks, -1), "y3"),
  yaxis3: withAnchor(umapY(655, 936.7, [-13, 15.68], yTicks), "x3"),
  xaxis4: withAnchor(umapX(432.3, 722.3, [-4.5, 8.76], [0, 5], 0), "y4"),
  yaxis4: withAnchor(umapY(9.3, 265, [-8.18, 7.87], [-8, -4, 0, 4]), "x4"),
  // panel C legend, one axis unit is one pixel
  xaxis5: withAnchor(hiddenAxis(domX(729, 749), [-10, 10]), "y5"),
  yaxis5: withAnchor(hiddenAxis(domY(121.7, 158.3), [3, 0]), "x5"),
  xaxis6: {
    domain: domX(394, 645), anchor: "y6", tickangle: -90, ticks: "", showgrid: false, zeroline: false, showline: false,
    tickmode: "array", tickvals: sampleNames, ticktext: sampleNames, tickfont: { family: fontSans, size: 9, color: "#333" }
  },
  yaxis6: {
    domain: domY(334, 595.3), anchor: "x6", side: "right", autorange: "reversed", ticks: "", showgrid: false, zeroline: false, showline: false,
    tickmode: "array", tickvals: geneNames, ticktext: geneNames, tickfont: { family: fontSans, size: 9, color: "#333" }
  },
  xaxis7: withAnchor(hiddenAxis(domX(394, 645), [-0.5, 5.5]), "y7"),
  yaxis7: withAnchor(hiddenAxis(domY(314, 333.4), [0, 58]), "x7"),
  xaxis8: withAnchor(hiddenAxis(domX(373.3, 394), [62, 0]), "y8"),
  yaxis8: withAnchor(hiddenAxis(domY(334, 595.3), [22.5, -0.5]), "x8"),
  xaxis9: {
    domain: domX(523.3, 689.3), anchor: "y9", range: [0.238, 1.035], tickmode: "array", tickvals: [0.4, 0.6, 0.8, 1.0], ticktext: ["0.4", "0.6", "0.8", "1.0"],
    showline: true, mirror: true, linecolor: "#555", linewidth: 1.5, ticks: "outside", ticklen: 3, tickcolor: "#555", zeroline: false, ticklabelstandoff: -3,
    showgrid: true, gridcolor: "#EBEBEB", gridwidth: 1,
    minor: { tickmode: "array", tickvals: [0.3, 0.5, 0.7, 0.9], showgrid: true, gridcolor: "#F3F3F3", gridwidth: 1 },
    tickfont: { family: fontSans, size: 10.5, color: "#333" }
  },
  yaxis9: {
    domain: domY(663.3, 947), anchor: "x9", range: [9.6, -0.63], tickmode: "array", tickvals: goTerms.map(function (d, i) { return i; }), ticktext: goTerms, ticklabelstandoff: 5,
    showline: true, mirror: true, linecolor: "#555", linewidth: 1.5, ticks: "outside", ticklen: 3, tickcolor: "#555", zeroline: false,
    showgrid: true, gridcolor: "#EBEBEB", gridwidth: 1, tickfont: { family: fontSans, size: 10.5, color: "#333" }
  },
  xaxis10: withAnchor(hiddenAxis(domX(702.7, 742.7), [-10, 30]), "y10"),
  yaxis10: withAnchor(hiddenAxis(domY(813, 856.7), [3, 0]), "x10"),
  shapes: [
    { type: "rect", xref: "x2", yref: "y2", x0: -13.84, x1: -5.49, y0: -4.11, y1: 2.47, line: { color: "#F01414", width: 2 } },
    { type: "rect", xref: "x3", yref: "y3", x0: -13.86, x1: -5.5, y0: -3.9, y1: 2.62, line: { color: "#F01414", width: 2 } }
  ],
  annotations: []
};

function note(text, xref, yref, x, y, size, family, extra) {
  var a = { text: text, xref: xref, yref: yref, x: x, y: y, showarrow: false, xanchor: "center", yanchor: "middle", font: { family: family || fontSans, size: size, color: "#111" } };
  for (var k in extra) { a[k] = extra[k]; }
  layout.annotations.push(a);
}
function page(text, px, py, size, family, extra) {
  note(text, "paper", "paper", px / W, 1 - py / H, size, family, extra);
}

// cluster names
note("B cells", "x", "y", -5.2, 11.6, 14.5);
note("NK cells", "x", "y", 3.41, 11.24, 14.5);
note("CD8 EM T cells", "x", "y", 7.67, 5, 14.5);
note("Basophils", "x", "y", -3.48, 1.13, 14.5);
note("CD4 EM T cells", "x", "y", 8.41, -0.88, 14.5);
note("Monocytes", "x", "y", -9.22, -1.39, 14.5);
note("CD4 CM T cells", "x", "y", 7.13, -5.07, 14.5);
note("Naive T cells", "x", "y", 4.76, -9.82, 14.5);
note("Isotype control treated", "x2", "y2", 6.5, 14.9, 14.5);
note("Monocytes", "x2", "y2", -10.16, 3.42, 14.5);
note("mAb1/mAb2 treated", "x3", "y3", 5.96, 14.22, 14.5);
note("Monocytes", "x4", "y4", 4.24, 6.92, 15);

// axis names
page("UMAP_1", 191.7, 297, 10.5, fontAxis);
page("UMAP_2", 40.7, 123, 10.5, fontAxis, { textangle: -90 });
page("UMAP_1", 195, 628, 10.5, fontAxis);
page("UMAP_2", 12, 452, 10.5, fontAxis, { textangle: -90 });
page("UMAP_1", 197, 963, 10.5, fontAxis);
page("UMAP_2", 11, 783, 10.5, fontAxis, { textangle: -90 });
page("UMAP_1", 585, 286, 10.5, fontAxis);
page("UMAP_2", 404, 137, 10.5, fontAxis, { textangle: -90 });
page("GeneRatio", 617, 966, 11, fontSans);

// panel letters
page("A", 0, 0, 15, fontAxis, { xanchor: "left", yanchor: "top" });
page("B", 0, 303, 15, fontAxis, { xanchor: "left", yanchor: "top" });
page("C", 360, 0, 15, fontAxis, { xanchor: "left", yanchor: "top" });
page("D", 360, 303, 15, fontAxis, { xanchor: "left", yanchor: "top" });
page("E", 360, 645, 15, fontAxis, { xanchor: "left", yanchor: "top" });

// legend titles
page("log.foldchange", 694.3, 451, 6.5, fontSans, { xanchor: "left" });
page("p.adjust", 705, 697, 11, fontSans, { xanchor: "left" });
page("Count", 708, 797, 11.5, fontSans, { xanchor: "left" });

// arrow between the two monocyte boxes
layout.annotations.push({
  text: "", xref: "paper", yref: "paper", x: 83 / W, y: 1 - 782 / H, ax: 0, ay: -262, axref: "pixel", ayref: "pixel",
  showarrow: true, arrowhead: 2, arrowsize: 1, arrowwidth: 3, arrowcolor: "black", standoff: 0
});

Plotly.newPlot("plot", data, layout, { displayModeBar: false, staticPlot: true });
</script>
</body>
</html>
